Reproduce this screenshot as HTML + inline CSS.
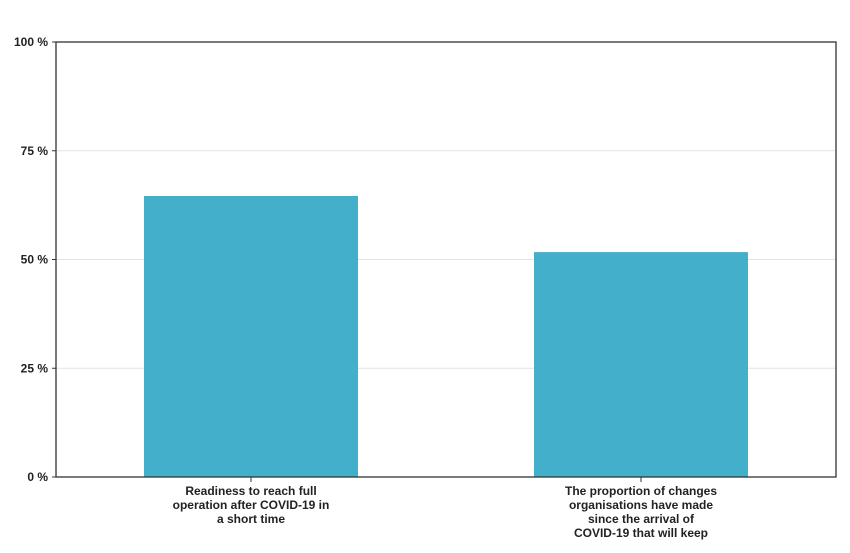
<!DOCTYPE html>
<html><head><meta charset="utf-8"><style>
body{margin:0;background:#fff;width:850px;height:548px;overflow:hidden}
svg{font-family:"Liberation Sans",Arial,sans-serif}
</style></head><body>
<svg id="chart" width="850" height="548"></svg>
<script>
const categories=[["Readiness to reach full","operation after COVID-19 in","a short time"],["The proportion of changes","organisations have made","since the arrival of","COVID-19 that will keep"]];
const values=[64.6,51.7];
const yTicks=[0,25,50,75,100];
const ns="http://www.w3.org/2000/svg";
const svg=document.getElementById('chart');
const L=56,R=836,T=42,B=477;
const y=v=>B-(v/100)*(B-T);
const bw=(R-L)/categories.length;
const xc=i=>L+bw*(i+0.5);
function mk(t,a,p){const e=document.createElementNS(ns,t);for(const k in a)e.setAttribute(k,a[k]);(p||svg).appendChild(e);return e;}
yTicks.forEach(t=>{
 if(t>0&&t<100){const g=mk('line',{x1:L,x2:R,y1:y(t),y2:y(t),stroke:'#e3e3e3','stroke-width':1});
 
 }
 const tk=mk('line',{x1:L-4,x2:L,y1:y(t),y2:y(t),stroke:'#333','stroke-width':1});
 
 
 const tx=mk('text',{x:L-8,y:y(t)+4,'text-anchor':'end','font-size':12,'font-weight':'bold',fill:'#222'});
 tx.textContent=t+' %';
 
 
});
values.forEach((v,i)=>{
 const r=mk('rect',{x:xc(i)-107,y:y(v),width:214,height:B-y(v),fill:'#44afcb'});
 
 
 const tk=mk('line',{x1:xc(i),x2:xc(i),y1:B,y2:B+5,stroke:'#333'});
 
 
 const t=mk('text',{'text-anchor':'middle','font-size':12,'font-weight':'bold',fill:'#222'});
 
 
 categories[i].forEach((ln,j)=>{const s=mk('tspan',{x:xc(i),y:495+j*14},t);s.textContent=ln;});
});
const f=mk('rect',{x:L,y:T,width:R-L,height:B-T,fill:'none',stroke:'#333','stroke-width':1.3});


</script>
</body></html>
